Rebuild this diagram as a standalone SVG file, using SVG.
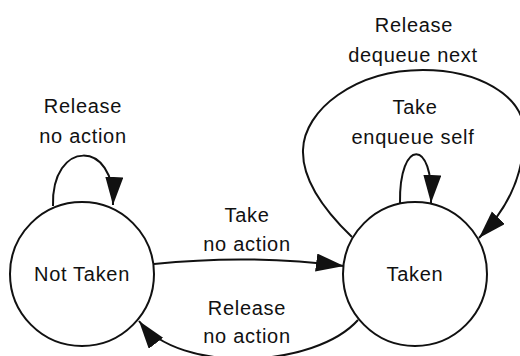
<svg xmlns="http://www.w3.org/2000/svg" width="520" height="356" viewBox="0 0 520 356">
<style>
.node{fill:#fff;stroke:#111;stroke-width:2}
.edge{fill:none;stroke:#111;stroke-width:2}
text{font-family:"Liberation Sans",Arial,sans-serif;font-size:20px;fill:#111;text-anchor:middle;letter-spacing:0.7px}
</style>
<defs>
<marker id="arr" markerUnits="userSpaceOnUse" markerWidth="30" markerHeight="20" refX="28" refY="9" orient="auto">
<path d="M0,0 L28,9 L0,18 z" fill="#111"/>
</marker>
</defs>
<rect width="520" height="356" fill="#fff"/>
<g id="edges">
<path class="edge" d="M53,206 C51,139 116,139 113,205" marker-end="url(#arr)"/>
<path class="edge" d="M400,203 C399,138 434,138 431,203" marker-end="url(#arr)"/>
<path class="edge" d="M352,237 C326,212 302,180 303,150 C304,110 355,70 423,70 C478,70 522,95 524,130 C525,180 503,213 479,238" marker-end="url(#arr)"/>
<path class="edge" d="M154,264 Q250,254 344,266" marker-end="url(#arr)"/>
<path class="edge" d="M358,320 C315,368 180,375 139,321" marker-end="url(#arr)"/>
</g>
<g id="labels">
<text x="83" y="113">Release</text>
<text x="83" y="143">no action</text>
<text x="414" y="32">Release</text>
<text x="413" y="62">dequeue next</text>
<text x="415" y="114">Take</text>
<text x="413" y="144">enqueue self</text>
<text x="247" y="222">Take</text>
<text x="247" y="251">no action</text>
<text x="247" y="315">Release</text>
<text x="247" y="343">no action</text>
</g>
<g id="not-taken">
<circle class="node" cx="82" cy="274" r="72"/>
<text x="82" y="281">Not Taken</text>
</g>
<g id="taken">
<circle class="node" cx="415" cy="274" r="72"/>
<text x="415" y="281">Taken</text>
</g>
</svg>
